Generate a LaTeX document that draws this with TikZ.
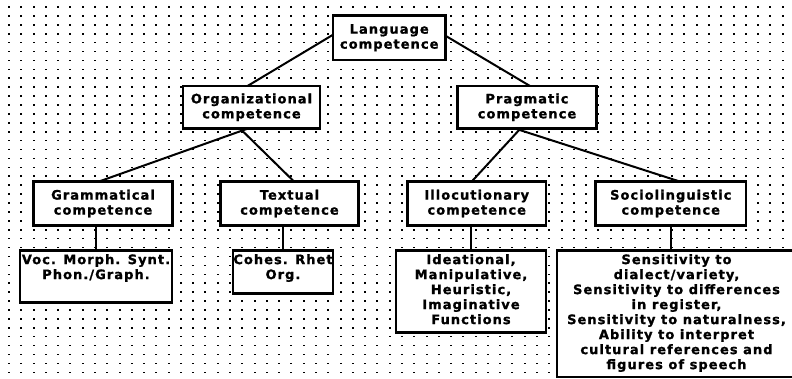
\documentclass[tikz,border=0pt]{standalone}
\usepackage{fontspec}
\newfontfamily\boxfont[LetterSpace=8, BoldFeatures={FakeBold=1.2}]{DejaVu Sans}
\begin{document}
\begin{tikzpicture}[x=1pt,y=-1pt,
  box/.style={draw, line width=2.4pt, fill=white, rectangle, outer sep=0pt, inner sep=0pt},
  txt/.style={font=\boxfont\bfseries\fontsize{13}{15}\selectfont, align=center},
  toptxt/.style={txt, anchor=north, inner xsep=0pt, inner ysep=3.5pt},
  link/.style={line width=2pt}]
\useasboundingbox (0,0) rectangle (792,378);
\fill[white] (0,0) rectangle (792,378);
\foreach \i in {0,...,63}{\foreach \j in {0,...,41}{%
  \fill (9+12.28*\i-1, 7+8.91*\j-0.8) rectangle ++(2,1.6);}}
% upper boxes
\node[box, txt, minimum width=112.5pt, minimum height=44.5pt] (lang) at (389.25,37.75) {Language\\competence};
\node[box, txt, minimum width=137pt, minimum height=42.5pt] (org) at (251.5,107.25) {Organizational\\competence};
\node[box, txt, minimum width=139pt, minimum height=42.5pt] (prag) at (527,107.25) {Pragmatic\\competence};
\node[box, txt, minimum width=139pt, minimum height=44pt] (gram) at (103,203.5) {Grammatical\\competence};
\node[box, txt, minimum width=138pt, minimum height=44pt] (text) at (289.5,203.5) {Textual\\competence};
\node[box, txt, minimum width=138.5pt, minimum height=44pt] (illoc) at (476.75,203.5) {Illocutionary\\competence};
\node[box, txt, minimum width=150.5pt, minimum height=44pt] (socio) at (670.75,203.5) {Sociolinguistic\\competence};
% lower boxes
\node[box, minimum width=152pt, minimum height=52pt,
  label={[toptxt]north:{Voc. Morph. Synt.\\Phon./Graph.}}] (voc) at (96,276.5) {};
\node[box, minimum width=100.5pt, minimum height=43pt,
  label={[toptxt]north:{Cohes. Rhet\\Org.}}] (cohes) at (283,272) {};
\node[box, minimum width=150.5pt, minimum height=82pt,
  label={[toptxt]north:{Ideational,\\Manipulative,\\Heuristic,\\Imaginative\\Functions}}] (idea) at (471,291.5) {};
\node[box, minimum width=239pt, minimum height=126.5pt,
  label={[toptxt]north:{Sensitivity to\\dialect/variety,\\Sensitivity to differences\\in register,\\Sensitivity to naturalness,\\Ability to interpret\\cultural references and\\figures of speech}}] (sens) at (676.5,313.75) {};
% connectors
\draw[link] ([yshift=3pt]lang.west) -- ([xshift=-4pt]org.north);
\draw[link] ([yshift=2pt]lang.east) -- ([xshift=3pt]prag.north);
\draw[link] ([xshift=-3.5pt]org.south) -- ([xshift=-4pt]gram.north);
\draw[link] ([xshift=-11.5pt]org.south) -- ([xshift=4.5pt]text.north);
\draw[link] ([xshift=-6.5pt]prag.south) -- ([xshift=-5pt]illoc.north);
\draw[link] ([xshift=-12pt]prag.south) -- ([xshift=9pt]socio.north);
\draw[link] (voc.north) -- (voc.north |- gram.south);
\draw[link] (cohes.north) -- (cohes.north |- text.south);
\draw[link] (idea.north) -- (idea.north |- illoc.south);
\draw[link] ([xshift=-0.25pt]socio.south) -- ([xshift=-0.25pt]socio.south |- sens.north);
\end{tikzpicture}
\end{document}
